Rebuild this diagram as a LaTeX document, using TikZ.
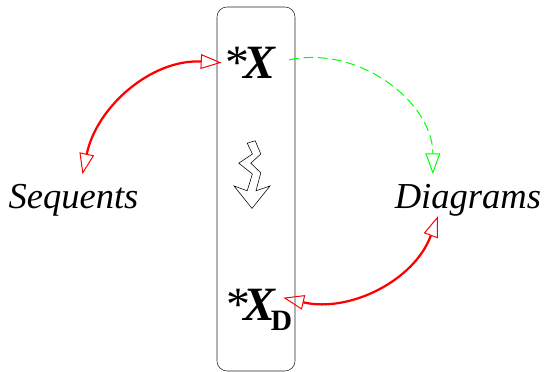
\documentclass[tikz,border=0pt]{standalone}
\usepackage{fontspec}
\setmainfont{Liberation Serif}
\usepackage{xcolor}
\usetikzlibrary{arrows.meta, positioning, calc}
\definecolor{linkred}{RGB}{255,0,0}
\definecolor{linkgreen}{RGB}{0,255,0}
\newcommand{\bigfont}{\fontsize{34}{35}\selectfont\bfseries}
\newcommand{\subfont}{\fontsize{21}{22}\selectfont\bfseries\upshape}
\newcommand{\starmark}{{\mdseries *}\kern-0.16cm}

\begin{document}
\begin{tikzpicture}[
    every node/.style={inner sep=1mm},
    >={Triangle[open, length=5.2mm, width=3.7mm, line width=0.7pt]},
    lane/.style={rectangle, draw=black!85, rounded corners=2.5mm, minimum width=1.95cm, minimum height=9.1cm},
    logic/.style={font=\fontsize{26}{27}\selectfont\itshape},
    term/.style={font=\bigfont},
    rededge/.style={<->, linkred, line width=1.6pt},
    greenedge/.style={->, linkgreen, line width=0.7pt, dash pattern=on 2.4mm off 1.2mm}
]
\useasboundingbox (0,0) rectangle (13.65,9.3);

\node[lane] (box) at (6.4,4.575) {};
\node[term, below=0.9cm of box.north, xshift=-0.125cm] (star) {\starmark\textit{X}};
\node[term, above=0.92cm of box.south, xshift=0.08cm] (stard) {\starmark\textit{X}\kern-0.14cm\raisebox{-0.24cm}{\subfont D}};

\node[logic, left=1.85cm of box.west, yshift=-0.28cm] (seq) {Sequents};
\node[logic, right=2.38cm of box.east, yshift=-0.28cm] (dia) {Diagrams};

% tip ends around the texts
\coordinate (seqtop) at ($(seq.center)+(0.225,0.65)$);
\coordinate (diatop) at ($(dia.center)+(-0.875,0.65)$);
\coordinate (diabot) at ($(dia.center)+(-0.75,-0.4)$);
\coordinate (greenout) at ($(star.east)+(0.22,0.07)$);
\coordinate (stardin) at ($(stard.east)+(-0.33,0.3)$);

% zigzag between the two terms
\draw[black] (6.18,5.72) -- (6.38,5.78) -- (6.52,5.45) -- (6.27,5.22) -- (6.52,4.98) -- (6.40,4.53) -- (6.75,4.65) -- (6.30,4.09) -- (5.85,4.65) -- (6.18,4.53) -- (6.31,4.95) -- (5.97,5.22) -- (6.31,5.45) -- cycle;

\draw[rededge] (star.west) to[out=177, in=78] (seqtop);
\draw[greenedge] (greenout) to[out=12, in=90] (diatop);
\draw[rededge] (stardin) to[out=-13, in=-110] (diabot);

\end{tikzpicture}
\end{document}
